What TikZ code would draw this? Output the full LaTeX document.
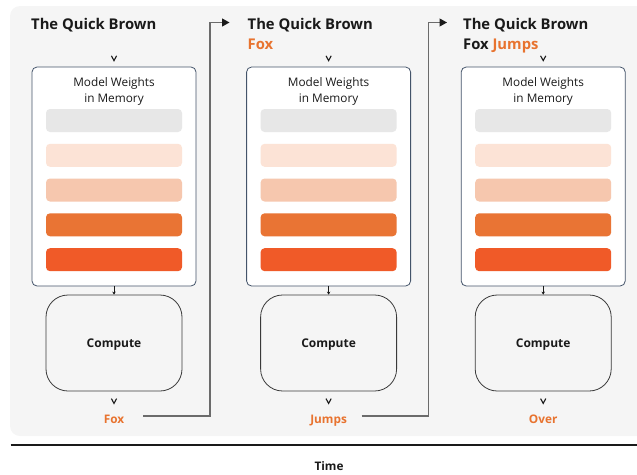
\documentclass[tikz,border=0pt]{standalone}
\usepackage{fontspec}
\setmainfont{Open Sans}
\usetikzlibrary{arrows.meta,calc}
\definecolor{panel}{HTML}{F5F5F5}
\definecolor{memline}{HTML}{44546A}
\definecolor{compline}{HTML}{3A3A3A}
\definecolor{barA}{HTML}{E7E7E7}
\definecolor{barB}{HTML}{FCE3D6}
\definecolor{barC}{HTML}{F6C7AE}
\definecolor{barD}{HTML}{E97434}
\definecolor{barE}{HTML}{F05A28}
\definecolor{accent}{HTML}{E8732F}
\definecolor{connline}{HTML}{6B6B6B}
\definecolor{ink}{HTML}{1A1A1A}
\begin{document}
\begin{tikzpicture}[x=1pt,y=-1pt,
  memory/.style={draw=memline, fill=white, rounded corners=5pt, line width=0.8pt,
    minimum width=164pt, minimum height=219pt, inner sep=0pt},
  bar/.style={draw=none, rounded corners=4pt, minimum width=136pt, minimum height=23pt, inner sep=0pt},
  compute/.style={draw=compline, rounded corners=22pt, line width=0.8pt,
    minimum width=136pt, minimum height=96pt, inner sep=0pt, text depth=0pt,
    font=\bfseries\fontsize{12}{14}\selectfont, text=ink},
  memlabel/.style={align=center, font=\fontsize{11.8}{16}\selectfont, text=ink, inner sep=0pt},
  titletext/.style={anchor=base west, inner sep=0pt, font=\bfseries\fontsize{14.8}{17}\selectfont, text=ink},
  outtext/.style={anchor=base, font=\bfseries\fontsize{11.8}{14}\selectfont, text=accent, inner sep=0pt},
  chevron/.style={draw=ink, line width=1.1pt, line join=miter},
  smallarrow/.style={draw=ink, line width=0.6pt, -{Stealth[length=3pt,width=3.5pt]}},
  conn/.style={draw=connline, line width=1.1pt, -{Triangle[length=7.5pt,width=8pt,fill=ink,color=ink]}}
]
\useasboundingbox (0,0) rectangle (637,474);
\fill[panel, rounded corners=10pt] (10,6) rectangle (660,436);

% titles
\node[titletext] (t1a) at (31,29) {The Quick Brown};
\node[titletext] (t2a) at (247.5,29) {The Quick Brown};
\node[titletext, text=accent] (t2b) at (247.5,49) {Fox};
\node[titletext] (t3a) at (463,29) {The Quick Brown};
\node[titletext] (t3b) at (463,49) {Fox \textcolor{accent}{Jumps}};

% columns
\foreach \i/\cx/\word in {1/114/Fox,2/328.6/Jumps,3/543.2/Over}{
  \node[memory] (m\i) at (\cx,176.5) {};
  \node[memlabel] (ml\i) at (\cx,91) {Model Weights\\in Memory};
  \node[bar, fill=barA] (b\i a) at (\cx,120.5) {};
  \node[bar, fill=barB] (b\i b) at (\cx,155.3) {};
  \node[bar, fill=barC] (b\i c) at (\cx,190) {};
  \node[bar, fill=barD] (b\i d) at (\cx,224.8) {};
  \node[bar, fill=barE] (b\i e) at (\cx,259.7) {};
  \node[compute] (c\i) at (\cx,343) {Compute};
  \node[outtext] (o\i) at (\cx,423) {\word};
  \draw[smallarrow] (m\i.south) -- (c\i.north);
  \draw[chevron] ($(m\i.north)+(-2.6,-10.8)$) -- ($(m\i.north)+(0,-6)$) -- ($(m\i.north)+(2.6,-10.8)$);
  \draw[chevron] ($(c\i.south)+(-2.6,7.2)$) -- ($(c\i.south)+(0,12)$) -- ($(c\i.south)+(2.6,7.2)$);
}

% connectors
\coordinate (s1) at (143,416);
\coordinate (e1) at (229.5,22.5);
\coordinate (s2) at (361.5,416);
\coordinate (e2) at (447,22.5);
\draw[conn] (s1) -| ($(e1)+(-19.5,0)$) -- (e1);
\draw[conn] (s2) -| ($(e2)+(-18.5,0)$) -- (e2);

% time axis
\draw[ink, line width=1.3pt] (10.5,445) -- (637,445);
\node[anchor=base, font=\bfseries\fontsize{11.8}{14}\selectfont, text=ink, inner sep=0pt] (time) at (329,470) {Time};
\end{tikzpicture}
\end{document}
